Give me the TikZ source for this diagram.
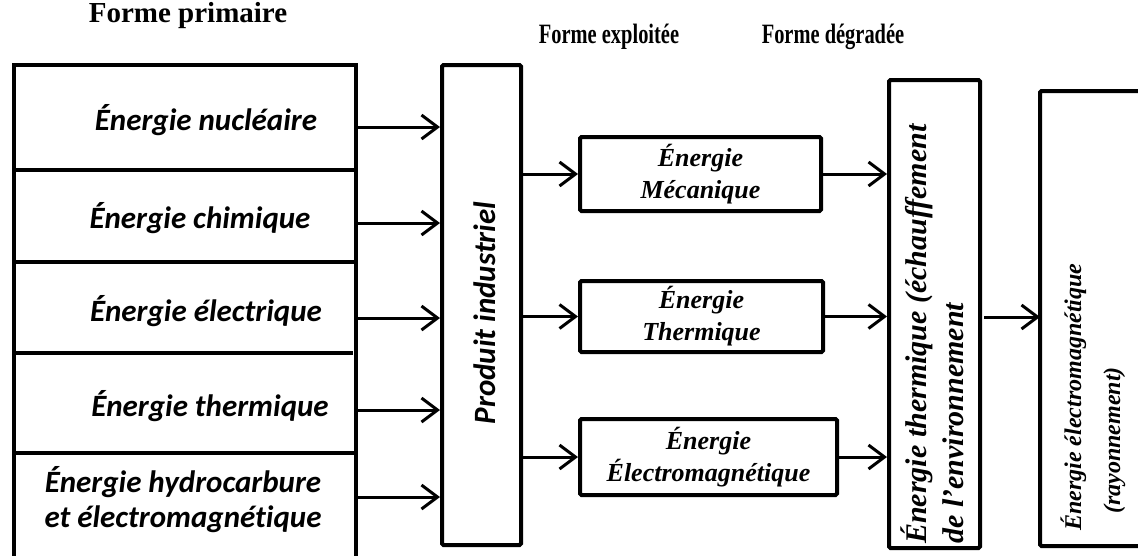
\documentclass[tikz,border=0pt]{standalone}
\usepackage{fontspec}
\setmainfont{Liberation Serif}[Ligatures={NoCommon}]
\newfontfamily\calfont{Carlito}[Ligatures={NoCommon}]
\usetikzlibrary{arrows.meta}
\begin{document}
\begin{tikzpicture}[x=1pt,y=-1pt,
  box/.style={draw, line width=4pt, rounded corners=1.5pt, inner sep=0pt},
  arr/.style={line width=3pt, -{Straight Barb[length=16pt,width=24pt]}},
  frame/.style={line width=4pt},
  divider/.style={line width=3.5pt},
  lbl/.style={font=\calfont\bfseries\itshape\fontsize{31}{35}\selectfont, inner sep=0pt, align=center},
  title/.style={font=\bfseries\fontsize{29}{33}\selectfont, inner sep=0pt},
  ctitle/.style={font=\bfseries\fontsize{28}{31}\selectfont, inner sep=0pt},
  exl/.style={font=\bfseries\itshape\fontsize{26}{32}\selectfont, inner sep=0pt, align=center},
  envl/.style={font=\bfseries\itshape\fontsize{30}{37}\selectfont, inner sep=0pt, align=left, rotate=90},
  rayl/.style={font=\bfseries\itshape\fontsize{24}{39}\selectfont, inner sep=0pt, align=left, rotate=90},
  prodl/.style={font=\calfont\bfseries\itshape\fontsize{31}{35}\selectfont, inner sep=0pt, rotate=90}]
\useasboundingbox (0,0) rectangle (1138,555);

% titles
\node[title] (t1) at (188,16) {Forme primaire};
\node[ctitle] (t2) at (609,37) {\scalebox{0.73}[1]{Forme exploitée}};
\node[ctitle] (t3) at (833,37) {\scalebox{0.73}[1]{Forme dégradée}};

% left box (open at the bottom)
\draw[frame] (14,556) -- (14,65) -- (356,65) -- (356,556);
\draw[divider] (14,170) -- (356,170);
\draw[divider] (14,262) -- (356,262);
\draw[divider] (14,353) -- (353,353);
\draw[divider] (14,453) -- (356,453);

\node[lbl, anchor=base] (l1) at (206,130) {Énergie nucléaire};
\node[lbl, anchor=base] (l2) at (200,228) {Énergie chimique};
\node[lbl, anchor=base] (l3) at (206,321) {Énergie électrique};
\node[lbl, anchor=base] (l4) at (210,416) {Énergie thermique};
\node[lbl] (l5) at (183,500) {Énergie hydrocarbure\\et électromagnétique};

\coordinate (o1) at (358,127);
\coordinate (o2) at (358,223);
\coordinate (o3) at (358,318);
\coordinate (o4) at (358,410);
\coordinate (o5) at (358,497);

% produit industriel
\node[box, minimum width=79pt, minimum height=480pt] (prod) at (481.5,305) {};
\node[prodl] (prodt) at (485,313) {Produit industriel};

\foreach \i in {1,...,5}{
  \draw[arr] (o\i) -- (o\i -| prod.west);
}

% exploited forms
\node[box, minimum width=241pt, minimum height=74pt, exl] (meca) at (700.5,174) {Énergie\\Mécanique};
\node[box, minimum width=243pt, minimum height=71pt, exl] (ther) at (701.5,316.5) {Énergie\\Thermique};
\node[box, minimum width=257pt, minimum height=76pt, exl] (elec) at (708.5,457) {Énergie\\Électromagnétique};

\draw[arr] (prod.east |- meca.west) -- (meca.west);
\draw[arr] (prod.east |- ther.west) -- (ther.west);
\draw[arr] (prod.east |- elec.west) -- (elec.west);

% degraded forms
\node[box, minimum width=91pt, minimum height=468pt] (env) at (934.5,314) {};
\node[envl, anchor=west] (envt) at (932,544) {Énergie thermique (échauffement\\de l’environnement};

% right box, cut by the right edge of the picture
\coordinate (ray) at (1040,318.5);
\draw[frame, rounded corners=1.5pt] (1138,91) -- (1040,91) -- (1040,546) -- (1138,546);
\node[rayl, anchor=west] (rayt) at (1093,531) {Énergie électromagnétique\\\hspace*{17pt}(rayonnement)};

\draw[arr] (meca.east) -- (meca.east -| env.west);
\draw[arr] (ther.east) -- (ther.east -| env.west);
\draw[arr] (elec.east) -- (elec.east -| env.west);

\coordinate (e1) at (984,317);
\draw[arr] (e1) -- (e1 -| ray);
\end{tikzpicture}
\end{document}
